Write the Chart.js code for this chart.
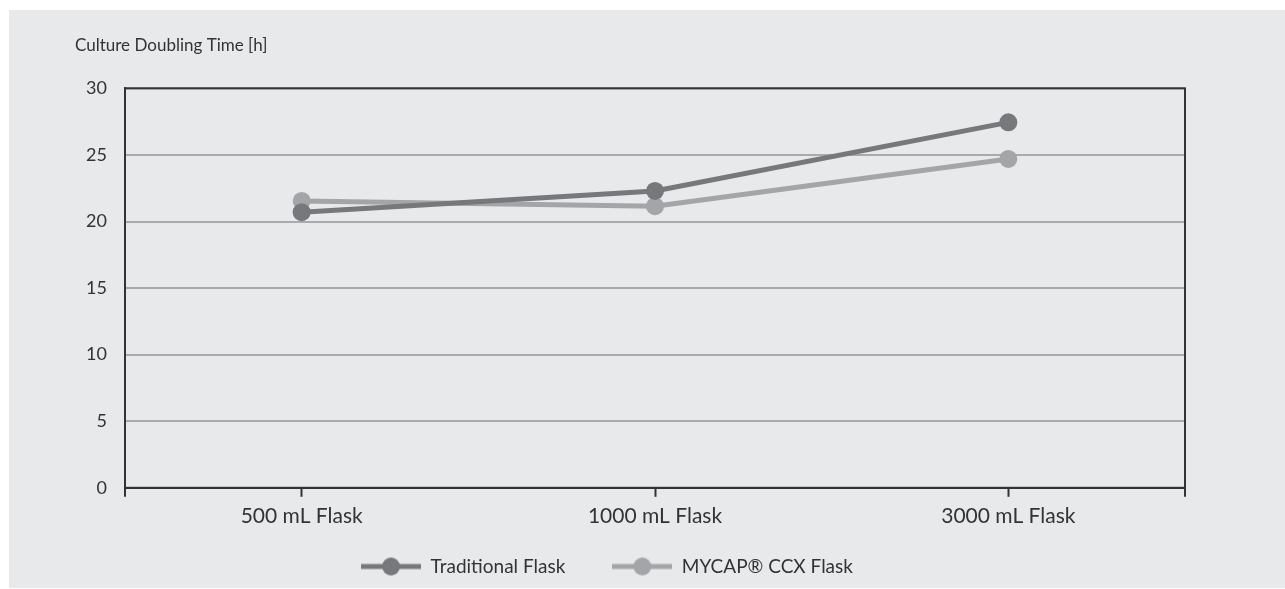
<!DOCTYPE html>
<html>
<head>
<meta charset="utf-8">
<script src="https://cdn.jsdelivr.net/npm/chart.js@4/dist/chart.umd.min.js"></script>
<style>
  html, body { margin: 0; padding: 0; background: #ffffff; }
  #panel { position: absolute; left: 9px; top: 10px; width: 1276px; height: 578px; background: #e8e9eb; overflow: hidden; }
</style>
</head>
<body>
<div id="panel"><canvas id="doublingChart" width="1276" height="578"></canvas></div>
<script>
// data
const flaskSizes = ["500 mL Flask", "1000 mL Flask", "3000 mL Flask"];
const traditionalFlask = [20.7, 22.3, 27.45];
const mycapFlask = [21.55, 21.15, 24.7];
const yTicks = [0, 5, 10, 15, 20, 25, 30];

const darkGrey = "#77787b";
const lightGrey = "#a4a5a8";
const inkColor = "#333333";
const fontFamily = "Lato, 'Open Sans', sans-serif";

// legend icon: short line with a dot in the middle
function legendIcon(color) {
    const c = document.createElement("canvas");
    c.width = 60;
    c.height = 20;
    const g = c.getContext("2d");
    g.strokeStyle = color;
    g.lineWidth = 5;
    g.beginPath();
    g.moveTo(0, 10);
    g.lineTo(60, 10);
    g.stroke();
    g.fillStyle = color;
    g.beginPath();
    g.arc(30, 10, 9, 0, Math.PI * 2);
    g.fill();
    return c;
}
const legendIcons = [legendIcon(darkGrey), legendIcon(lightGrey)];

// box around the plot + edge ticks under the x axis
const frameBox = {
    id: "frameBox",
    afterLayout(chart) {
        // legend sits a bit left of centre and closer to the axis labels
        const lg = chart.legend;
        lg.left -= 23;
        lg.right -= 23;
        lg.top -= 26;
        lg.bottom -= 26;
    },
    afterDraw(chart) {
        const { ctx, chartArea } = chart;
        ctx.save();
        ctx.strokeStyle = inkColor;
        ctx.lineWidth = 2;
        ctx.strokeRect(chartArea.left, chartArea.top, chartArea.right - chartArea.left, chartArea.bottom - chartArea.top);
        ctx.beginPath();
        ctx.moveTo(chartArea.left, chartArea.bottom);
        ctx.lineTo(chartArea.left, chartArea.bottom + 9);
        ctx.moveTo(chartArea.right, chartArea.bottom);
        ctx.lineTo(chartArea.right, chartArea.bottom + 9);
        ctx.stroke();
        ctx.restore();
    }
};

const ctx = document.getElementById("doublingChart").getContext("2d");

new Chart(ctx, {
    type: "line",
    data: {
        labels: flaskSizes,
        datasets: [
            {
                label: "Traditional Flask",
                data: traditionalFlask,
                borderColor: darkGrey,
                backgroundColor: darkGrey,
                borderWidth: 5,
                pointRadius: 9,
                pointBackgroundColor: darkGrey,
                pointBorderWidth: 0,
                pointHoverRadius: 9,
                order: 1
            },
            {
                label: "MYCAP® CCX Flask",
                data: mycapFlask,
                borderColor: lightGrey,
                backgroundColor: lightGrey,
                borderWidth: 5,
                pointRadius: 9,
                pointBackgroundColor: lightGrey,
                pointBorderWidth: 0,
                pointHoverRadius: 9,
                order: 2
            }
        ]
    },
    options: {
        responsive: false,
        animation: false,
        layout: {
            padding: { left: 66, right: 100, top: 25, bottom: -24 }
        },
        plugins: {
            title: {
                display: true,
                text: "Culture Doubling Time [h]",
                align: "start",
                color: inkColor,
                font: { family: fontFamily, size: 17, weight: "normal" },
                padding: { top: 0, bottom: 33 }
            },
            legend: {
                position: "bottom",
                labels: {
                    usePointStyle: true,
                    pointStyleWidth: 60,
                    padding: 47,
                    color: inkColor,
                    font: { family: fontFamily, size: 19 },
                    generateLabels(chart) {
                        const items = Chart.defaults.plugins.legend.labels.generateLabels(chart);
                        return items.map((item, i) => Object.assign(item, { pointStyle: legendIcons[i] }));
                    }
                }
            },
            tooltip: { enabled: false }
        },
        scales: {
            x: {
                offset: true,
                grid: {
                    offset: false,
                    drawOnChartArea: false,
                    drawTicks: true,
                    tickLength: 9,
                    tickWidth: 2,
                    tickColor: inkColor
                },
                border: { color: inkColor, width: 2 },
                ticks: {
                    color: inkColor,
                    padding: 7,
                    font: { family: fontFamily, size: 21 }
                }
            },
            y: {
                min: 0,
                max: 30,
                afterBuildTicks(axis) {
                    axis.ticks = yTicks.map(v => ({ value: v }));
                },
                afterFit(axis) {
                    axis.width = 50;
                },
                grid: {
                    color: "#a9aaad",
                    lineWidth: 2,
                    drawTicks: false
                },
                border: { color: inkColor, width: 2 },
                ticks: {
                    color: inkColor,
                    padding: 18,
                    font: { family: fontFamily, size: 18 }
                }
            }
        }
    },
    plugins: [frameBox]
});
</script>
</body>
</html>
